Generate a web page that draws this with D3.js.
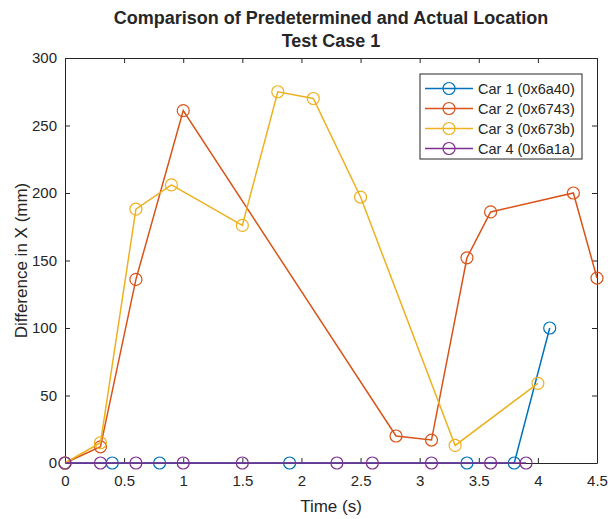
<!DOCTYPE html>
<html>
<head>
<meta charset="utf-8">
<script src="https://cdn.jsdelivr.net/npm/d3@7"></script>
<style>
  body { margin: 0; background: #fff; }
  text { font-family: "Liberation Sans", Arial, sans-serif; fill: #262626; }
</style>
</head>
<body>
<div class="chart"></div>
<script>
// data
const seriesNames = ['Car 1 (0x6a40)', 'Car 2 (0x6743)', 'Car 3 (0x673b)', 'Car 4 (0x6a1a)']
const seriesColors = ['#0072BD', '#D95319', '#EDB120', '#7E2F8E']

const car1Time = [0, 0.4, 0.8, 1.9, 3.4, 3.8, 4.1]
const car1Diff = [0, 0, 0, 0, 0, 0, 100]

const car2Time = [0, 0.3, 0.6, 1.0, 2.8, 3.1, 3.4, 3.6, 4.3, 4.5]
const car2Diff = [0, 12, 136, 261, 20, 17, 152, 186, 200, 137]

const car3Time = [0, 0.3, 0.6, 0.9, 1.5, 1.8, 2.1, 2.5, 3.3, 4.0]
const car3Diff = [0, 15, 188, 206, 176, 275, 270, 197, 13, 59]

const car4Time = [0, 0.3, 0.6, 1.0, 1.5, 2.3, 2.6, 3.1, 3.6, 3.9]
const car4Diff = [0, 0, 0, 0, 0, 0, 0, 0, 0, 0]

const xTicks = [0, 0.5, 1, 1.5, 2, 2.5, 3, 3.5, 4, 4.5]
const yTicks = [0, 50, 100, 150, 200, 250, 300]

const W = 608, H = 519
const margin = { left: 65, right: 11, top: 58, bottom: 56 }
const iw = W - margin.left - margin.right
const ih = H - margin.top - margin.bottom
const axisColor = '#262626'

const svg = d3.select('.chart')
    .append('svg')
    .attr('width', W)
    .attr('height', H)

const x = d3.scaleLinear().domain([0, 4.5]).range([0, iw])
const y = d3.scaleLinear().domain([0, 300]).range([ih, 0])

const g = svg.append('g')
    .attr('transform', `translate(${margin.left},${margin.top})`)

// axes: MATLAB style box with inward ticks
const tickLen = 5
g.append('g')
    .attr('transform', `translate(0,${ih})`)
    .call(d3.axisBottom(x).tickValues(xTicks).tickSizeInner(-tickLen).tickSizeOuter(0).tickPadding(12).tickFormat(d3.format('~g')))
g.append('g')
    .call(d3.axisTop(x).tickValues(xTicks).tickSizeInner(-tickLen).tickSizeOuter(0).tickFormat(''))
g.append('g')
    .call(d3.axisLeft(y).tickValues(yTicks).tickSizeInner(-tickLen).tickSizeOuter(0).tickPadding(8))
g.append('g')
    .attr('transform', `translate(${iw},0)`)
    .call(d3.axisRight(y).tickValues(yTicks).tickSizeInner(-tickLen).tickSizeOuter(0).tickFormat(''))

g.selectAll('.domain').attr('stroke', axisColor)
g.selectAll('.tick line').attr('stroke', axisColor)
g.selectAll('.tick text')
    .attr('font-size', '15px')
    .attr('font-family', '"Liberation Sans", Arial, sans-serif')
    .attr('fill', axisColor)

// series lines and markers
const series = [
    d3.zip(car1Time, car1Diff),
    d3.zip(car2Time, car2Diff),
    d3.zip(car3Time, car3Diff),
    d3.zip(car4Time, car4Diff)
]

const line = d3.line()
    .x(d => x(d[0]))
    .y(d => y(d[1]))

series.forEach((pts, i) => {
    const sg = g.append('g')
    sg.append('path')
        .attr('d', line(pts))
        .attr('fill', 'none')
        .attr('stroke', seriesColors[i])
        .attr('stroke-width', 1.5)
    sg.selectAll('circle')
        .data(pts)
        .enter()
        .append('circle')
        .attr('cx', d => x(d[0]))
        .attr('cy', d => y(d[1]))
        .attr('r', 6)
        .attr('fill', 'none')
        .attr('stroke', seriesColors[i])
        .attr('stroke-width', 1.2)
})

// legend
const lg = svg.append('g').attr('transform', 'translate(420,74)')
lg.append('rect')
    .attr('width', 162)
    .attr('height', 85)
    .attr('fill', '#fff')
    .attr('stroke', axisColor)
    .attr('stroke-width', 1)
seriesNames.forEach((name, i) => {
    const yy = 14.5 + i * 20
    lg.append('line')
        .attr('x1', 5).attr('x2', 53)
        .attr('y1', yy).attr('y2', yy)
        .attr('stroke', seriesColors[i])
        .attr('stroke-width', 1.5)
    lg.append('circle')
        .attr('cx', 29).attr('cy', yy).attr('r', 6)
        .attr('fill', 'none')
        .attr('stroke', seriesColors[i])
        .attr('stroke-width', 1.2)
    lg.append('text')
        .attr('x', 58).attr('y', yy + 5)
        .attr('font-size', '14.5px')
        .text(name)
})

// titles
svg.append('text')
    .attr('x', margin.left + iw / 2).attr('y', 24)
    .attr('text-anchor', 'middle')
    .attr('font-size', '18px')
    .attr('font-weight', 'bold')
    .text('Comparison of Predetermined and Actual Location')
svg.append('text')
    .attr('x', margin.left + iw / 2).attr('y', 47)
    .attr('text-anchor', 'middle')
    .attr('font-size', '18px')
    .attr('font-weight', 'bold')
    .text('Test Case 1')

svg.append('text')
    .attr('x', margin.left + iw / 2).attr('y', 512)
    .attr('text-anchor', 'middle')
    .attr('font-size', '17px')
    .text('Time (s)')
svg.append('text')
    .attr('transform', `translate(27,${margin.top + ih / 2}) rotate(-90)`)
    .attr('text-anchor', 'middle')
    .attr('font-size', '17px')
    .text('Difference in X (mm)')
</script>
</body>
</html>
